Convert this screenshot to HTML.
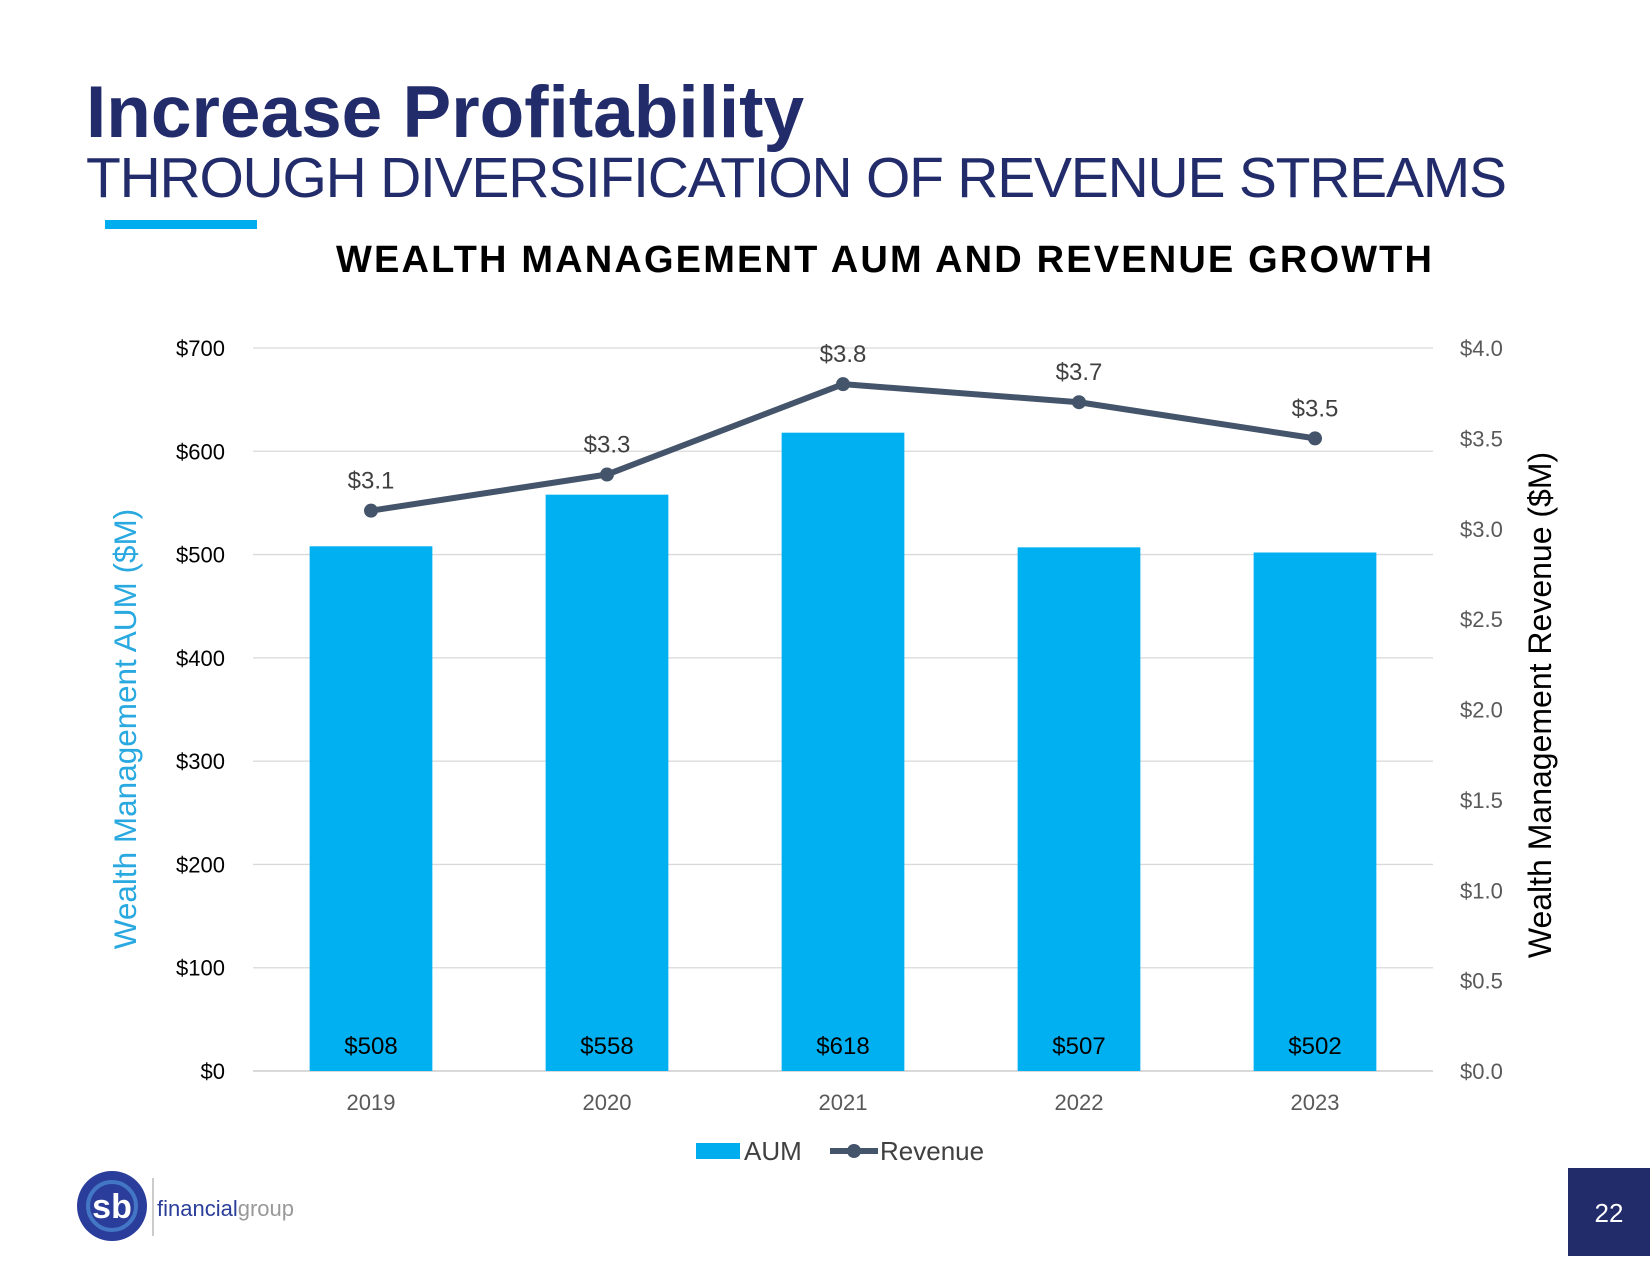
<!DOCTYPE html>
<html><head><meta charset="utf-8"><style>
body{margin:0;width:1650px;height:1275px;background:#fff;overflow:hidden;font-family:"Liberation Sans",sans-serif;}
</style></head><body>
<svg width="1650" height="1275" viewBox="0 0 1650 1275">
<text x="86" y="137" font-size="73" font-weight="bold" fill="#232c6b">Increase Profitability</text>
<text x="86" y="197" font-size="57" fill="#232c6b" textLength="1421">THROUGH DIVERSIFICATION OF REVENUE STREAMS</text>
<rect x="105" y="220" width="152" height="9" fill="#00aeef"/>
<text x="884" y="272" font-size="38" font-weight="bold" fill="#000" text-anchor="middle" textLength="1096">WEALTH MANAGEMENT AUM AND REVENUE GROWTH</text>
<g id="chart"></g>
<text transform="translate(136,729) rotate(-90)" font-size="31.5" fill="#29a9e0" text-anchor="middle">Wealth Management AUM ($M)</text>
<text transform="translate(1551,705) rotate(-90)" font-size="32" fill="#000" text-anchor="middle">Wealth Management Revenue ($M)</text>
<g>
<rect x="696" y="1143" width="44" height="16" fill="#00aeef"/>
<text x="744" y="1160" font-size="26" fill="#404040">AUM</text>
<line x1="830" y1="1151" x2="878" y2="1151" stroke="#44546a" stroke-width="6"/>
<circle cx="854" cy="1151" r="7" fill="#44546a"/>
<text x="880" y="1160" font-size="26" fill="#404040">Revenue</text>
</g>
<g>
<circle cx="112" cy="1206" r="35" fill="#2a3d9a"/>
<circle cx="112" cy="1206" r="24" fill="none" stroke="#4f8fd6" stroke-width="4" opacity="0.7"/>
<text x="112" y="1218" font-size="34" fill="#fff" text-anchor="middle" font-weight="bold">sb</text>
<line x1="153" y1="1178" x2="153" y2="1236" stroke="#999" stroke-width="1"/>
<text x="157" y="1216" font-size="22" fill="#2a3d9a">financial<tspan fill="#999">group</tspan></text>
</g>
<rect x="1568" y="1168" width="82" height="88" fill="#232c6b"/>
<text x="1609" y="1222" font-size="26" fill="#fff" text-anchor="middle">22</text>
</svg>
<script>
const categories=["2019","2020","2021","2022","2023"];
const aumValues=[508,558,618,507,502];
const revenueValues=[3.1,3.3,3.8,3.7,3.5];
const leftTicks=[0,100,200,300,400,500,600,700];
const rightTicks=[0,0.5,1,1.5,2,2.5,3,3.5,4];
const NS="http://www.w3.org/2000/svg";
const g=document.getElementById('chart');
const X0=253,X1=1433,Y0=1071,YT=348;
const yL=v=>Y0-(v/700)*(Y0-YT);
const yR=v=>Y0-(v/4)*(Y0-YT);
const bw=(X1-X0)/categories.length;
const xC=i=>X0+bw*(i+0.5);
function mk(t,a,txt){const e=document.createElementNS(NS,t);for(const k in a)e.setAttribute(k,a[k]);if(txt!==undefined)e.textContent=txt;g.appendChild(e);return e;}
leftTicks.forEach(v=>{
 const l=mk('line',{x1:X0,x2:X1,y1:yL(v),y2:yL(v),stroke:'#d9d9d9','stroke-width':v===0?2:1.3});
 
 
 const t=mk('text',{x:225,y:yL(v)+8,'font-size':22,fill:'#000','text-anchor':'end'},'$'+v);
 
 
});
rightTicks.forEach(v=>{
 const t=mk('text',{x:1460,y:yR(v)+8,'font-size':22,fill:'#595959'},'$'+v.toFixed(1));
 
 
});
categories.forEach((c,i)=>{
 const w=bw*0.52;
 const r=mk('rect',{x:xC(i)-w/2,y:yL(aumValues[i]),width:w,height:Y0-yL(aumValues[i]),fill:'#00b0f0'});
 
 
 const t=mk('text',{x:xC(i),y:Y0-17,'font-size':24,fill:'#000','text-anchor':'middle'},'$'+aumValues[i]);
 
 
 const xl=mk('text',{x:xC(i),y:1110,'font-size':22,fill:'#595959','text-anchor':'middle'},c);
 
 
});
const pl=mk('polyline',{points:revenueValues.map((v,i)=>xC(i)+','+yR(v)).join(' '),fill:'none',stroke:'#44546a','stroke-width':6,'stroke-linejoin':'round'});


revenueValues.forEach((v,i)=>{
 const c=mk('circle',{cx:xC(i),cy:yR(v),r:7,fill:'#44546a'});
 
 
 const t=mk('text',{x:xC(i),y:yR(v)-22,'font-size':24,fill:'#404040','text-anchor':'middle'},'$'+v.toFixed(1));
 
 
});
</script>
</body></html>
